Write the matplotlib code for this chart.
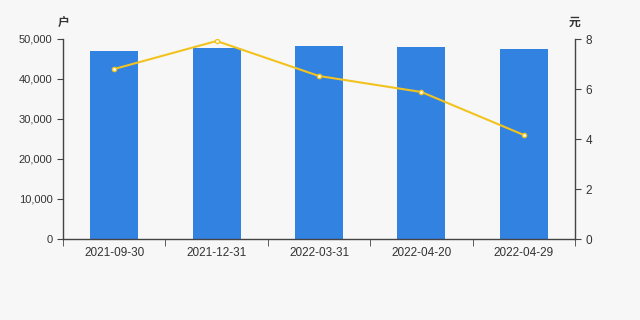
import matplotlib.pyplot as plt
from matplotlib.ticker import FuncFormatter, FixedLocator

plt.rcParams['font.family'] = ['Liberation Sans', 'Noto Sans CJK SC', 'DejaVu Sans']

dates = ['2021-09-30', '2021-12-31', '2022-03-31', '2022-04-20', '2022-04-29']
holders = [47000, 47750, 48250, 48000, 47500]
price = [6.80, 7.92, 6.52, 5.88, 4.16]

bg = '#f7f7f7'
axis_color = '#444444'
text_color = '#333333'

fig = plt.figure(figsize=(6.4, 3.2), dpi=100, facecolor=bg)
ax = fig.add_axes([63 / 640, 81 / 320, 512 / 640, 200 / 320], facecolor=bg)
x = list(range(len(dates)))
ax.bar(x, holders, width=0.47, color='#3282e2', zorder=2)
ax.set_xlim(-0.5, len(dates) - 0.5)
ax.set_ylim(0, 50000)
ax.set_yticks(range(0, 50001, 10000))
ax.yaxis.set_major_formatter(FuncFormatter(lambda v, p: f'{int(v):,}'))
ax.set_xticks(x)
ax.set_xticklabels(dates)
ax.xaxis.set_minor_locator(FixedLocator([i - 0.5 for i in range(len(dates) + 1)]))
ax.tick_params(axis='x', which='major', length=0, pad=6, labelsize=8.5)
ax.tick_params(axis='x', which='minor', length=5, color=axis_color)
ax.tick_params(axis='y', length=4, color=axis_color, labelsize=8)
ax.tick_params(labelcolor=text_color)

ax2 = ax.twinx()
ax2.plot(x, price, color='#f2c31e', lw=1.5, marker='o', markersize=3,
         markerfacecolor='white', markeredgecolor='#f2c31e', markeredgewidth=1, zorder=3)
ax2.set_ylim(0, 8)
ax2.set_yticks(range(0, 9, 2))
ax2.tick_params(axis='y', length=4, color=axis_color, labelsize=8.5, labelcolor=text_color)

for a in (ax, ax2):
    for side in ('top', 'right', 'left', 'bottom'):
        a.spines[side].set_visible(False)
ax.spines['left'].set_visible(True)
ax.spines['bottom'].set_visible(True)
ax2.spines['right'].set_visible(True)
for sp in (ax.spines['left'], ax.spines['bottom'], ax2.spines['right']):
    sp.set_color(axis_color)
    sp.set_linewidth(1)

fig.text(64 / 640, 1 - 22 / 320, '户', ha='center', va='center', fontsize=8.5,
         color=text_color, fontweight='bold', family=['Noto Sans CJK SC'])
fig.text(575 / 640, 1 - 22 / 320, '元', ha='center', va='center', fontsize=8.5,
         color=text_color, fontweight='bold', family=['Noto Sans CJK SC'])

fig.savefig('out.png', dpi=100, facecolor=bg)
